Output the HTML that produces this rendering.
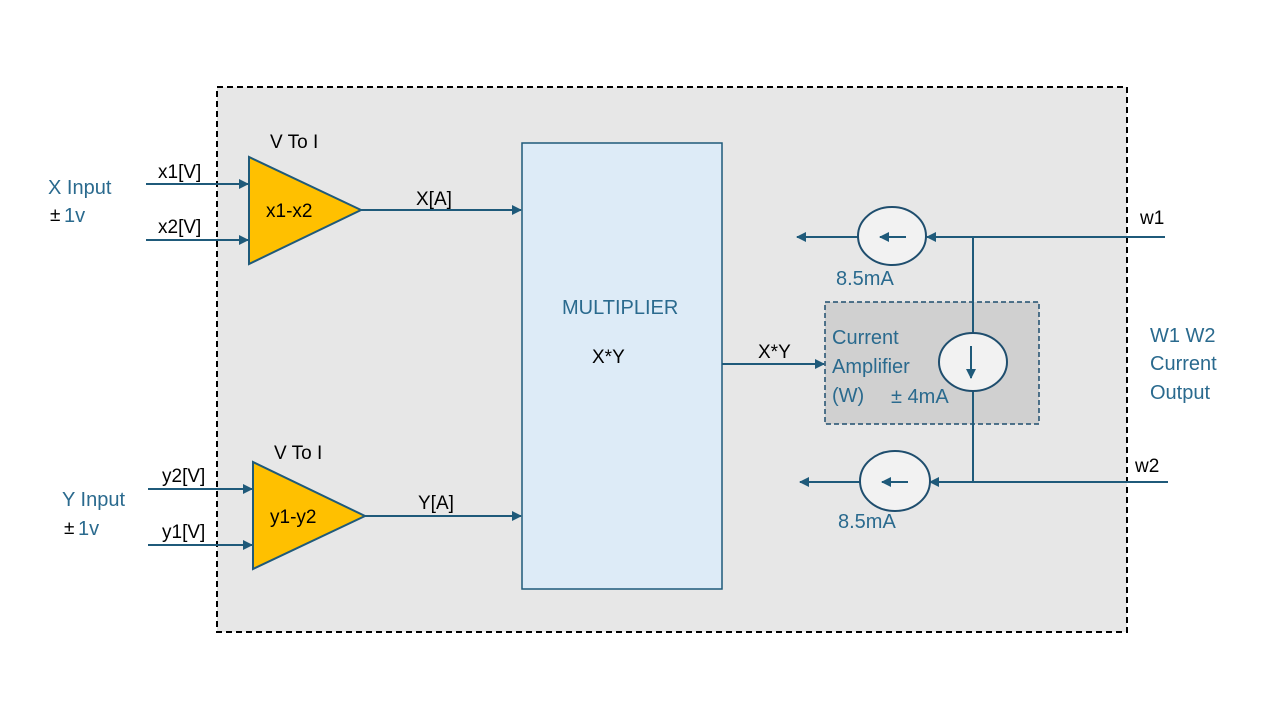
<!DOCTYPE html>
<html><head><style>
html,body{margin:0;padding:0;background:#fff;}
svg{display:block;}
text{font-family:"Liberation Sans",sans-serif;}
</style></head><body>
<svg width="1280" height="720" viewBox="0 0 1280 720" xmlns="http://www.w3.org/2000/svg">
<defs>
<marker id="a" viewBox="0 0 10 10" refX="9" refY="5" markerWidth="5" markerHeight="5" orient="auto"><path d="M0,0L10,5L0,10z" fill="#1f5a7a"/></marker>
</defs>
<rect x="217" y="87" width="910" height="545" fill="#e7e7e7" stroke="#000" stroke-width="2" stroke-dasharray="6,4"/>
<rect x="825" y="302" width="214" height="122" fill="#d0d0d0" stroke="#1f4e6e" stroke-width="1.5" stroke-dasharray="5,3"/>
<rect x="522" y="143" width="200" height="446" fill="#ddebf7" stroke="#1f5a7a" stroke-width="1.5"/>
<g stroke="#1f5a7a" stroke-width="2" fill="none">
<line x1="146" y1="184" x2="248" y2="184" marker-end="url(#a)"/>
<line x1="146" y1="240" x2="248" y2="240" marker-end="url(#a)"/>
<line x1="148" y1="489" x2="252" y2="489" marker-end="url(#a)"/>
<line x1="148" y1="545" x2="252" y2="545" marker-end="url(#a)"/>
<line x1="361" y1="210" x2="521" y2="210" marker-end="url(#a)"/>
<line x1="365" y1="516" x2="521" y2="516" marker-end="url(#a)"/>
<line x1="722" y1="364" x2="824" y2="364" marker-end="url(#a)"/>
<line x1="1165" y1="237" x2="927" y2="237" marker-end="url(#a)"/>
<line x1="858" y1="237" x2="797" y2="237" marker-end="url(#a)"/>
<line x1="1168" y1="482" x2="930" y2="482" marker-end="url(#a)"/>
<line x1="860" y1="482" x2="800" y2="482" marker-end="url(#a)"/>
<line x1="973" y1="237" x2="973" y2="333"/>
<line x1="973" y1="392" x2="973" y2="482"/>
</g>
<polygon points="249,157 249,264 361,210" fill="#ffc000" stroke="#1f5a7a" stroke-width="2"/>
<polygon points="253,462 253,569 365,516" fill="#ffc000" stroke="#1f5a7a" stroke-width="2"/>
<g fill="#f2f2f2" stroke="#1f4e6e" stroke-width="2">
<ellipse cx="892" cy="236" rx="34" ry="29"/>
<ellipse cx="895" cy="481" rx="35" ry="30"/>
<ellipse cx="973" cy="362" rx="34" ry="29"/>
</g>
<g stroke="#1f5a7a" stroke-width="2">
<line x1="906" y1="237" x2="880" y2="237" marker-end="url(#a)"/>
<line x1="908" y1="482" x2="882" y2="482" marker-end="url(#a)"/>
<line x1="971" y1="346" x2="971" y2="378" marker-end="url(#a)"/>
</g>
<g font-size="19" fill="#000">
<text x="270" y="148">V To I</text>
<text x="274" y="459">V To I</text>
<text x="158" y="178">x1[V]</text>
<text x="158" y="233">x2[V]</text>
<text x="162" y="482">y2[V]</text>
<text x="162" y="538">y1[V]</text>
<text x="266" y="217">x1-x2</text>
<text x="270" y="523">y1-y2</text>
<text x="416" y="205">X[A]</text>
<text x="418" y="509">Y[A]</text>
<text x="592" y="363">X*Y</text>
<text x="758" y="358">X*Y</text>
<text x="1140" y="224">w1</text>
<text x="1135" y="472">w2</text>
<text x="50" y="221">±</text>
<text x="64" y="534">±</text>
</g>
<g font-size="20" fill="#2a6a8e">
<text x="48" y="194">X Input</text>
<text x="64" y="222">1v</text>
<text x="62" y="506">Y Input</text>
<text x="78" y="535">1v</text>
<text x="562" y="314">MULTIPLIER</text>
<text x="836" y="285">8.5mA</text>
<text x="838" y="528">8.5mA</text>
<text x="832" y="344">Current</text>
<text x="832" y="373">Amplifier</text>
<text x="832" y="402">(W)</text>
<text x="891" y="403">± 4mA</text>
<text x="1150" y="342">W1 W2</text>
<text x="1150" y="370">Current</text>
<text x="1150" y="399">Output</text>
</g>
</svg>
</body></html>
